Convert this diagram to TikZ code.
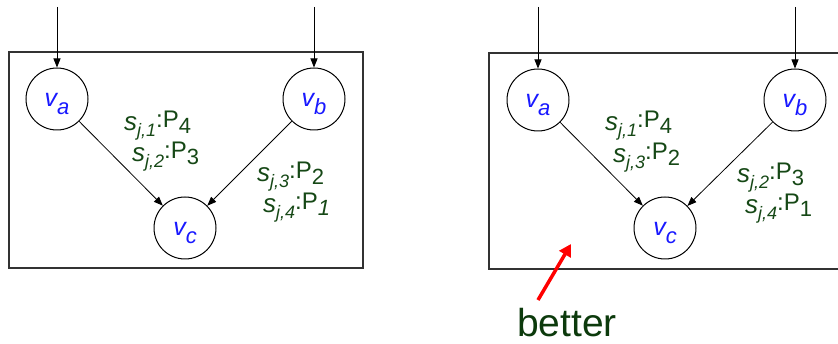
\documentclass[tikz,border=0pt]{standalone}
\usepackage{fontspec}
\setmainfont{Liberation Sans}
\usetikzlibrary{arrows.meta}
\definecolor{lblgreen}{RGB}{22,72,22}
\definecolor{bettergreen}{RGB}{12,58,12}
\definecolor{vblue}{RGB}{25,25,255}
\definecolor{boxgray}{RGB}{50,50,50}
\newcommand{\fsz}[2]{{\fontsize{#1}{#1}\selectfont #2}}
% s_{j,#1}:P_{#2}
\newcommand{\slbl}[2]{\fsz{26}{\itshape s}\raisebox{-6pt}{\fsz{18}{\itshape j,#1}}\raisebox{3pt}{\fsz{24}{:P}}\raisebox{-2.7pt}{\fsz{22}{#2}}}
\newcommand{\vlbl}[1]{\fsz{25}{\itshape v}\raisebox{-8pt}{\fsz{22}{\itshape #1}}}
\begin{document}
\begin{tikzpicture}[x=1pt,y=-1pt,
  circ/.style={draw=black,line width=1pt,circle,minimum size=62pt,inner sep=0pt},
  vlab/.style={text=vblue,inner sep=0pt,anchor=base,yshift=-7.5pt},
  slab/.style={text=lblgreen,inner sep=0pt,anchor=base west},
  panel/.style={draw=boxgray,line width=1.2pt},
  arr/.style={draw=black,line width=0.8pt,-{Triangle[length=9pt,width=7pt]}},
  redarr/.style={draw=red,line width=3.5pt,-{Triangle[length=12pt,width=13pt]}}]
\useasboundingbox (0,0) rectangle (838,344);
\clip (0,0) rectangle (838,344);
% ---------- left panel ----------
\draw[panel] (9,52) rectangle (363,268);
\node[circ] (va) at (57,99) {};
\node[circ] (vb) at (314,99) {};
\node[circ] (vc) at (185,228) {};
\node[vlab] (vat) at (va) {\vlbl{a}};
\node[vlab] (vbt) at (vb) {\vlbl{b}};
\node[vlab] (vct) at (vc) {\vlbl{c}};
\coordinate (ta) at (57,7);
\coordinate (tb) at (314,7);
\draw[arr] (ta) -- (va);
\draw[arr] (tb) -- (vb);
\draw[arr] (va) -- (vc);
\draw[arr] (vb) -- (vc);
\node[slab] (l1) at (124,131) {\slbl{1}{4}};
\node[slab] (l2) at (132,162) {\slbl{2}{3}};
\node[slab] (l3) at (257,182) {\slbl{3}{2}};
\node[slab] (l4) at (263,213) {\slbl{4}{\itshape 1}};
% ---------- right panel ----------
\draw[panel] (489,53) rectangle (850,269);
\node[circ] (rva) at (538,100) {};
\node[circ] (rvb) at (795,100) {};
\node[circ] (rvc) at (665,228) {};
\node[vlab] (rvat) at (rva) {\vlbl{a}};
\node[vlab] (rvbt) at (rvb) {\vlbl{b}};
\node[vlab] (rvct) at (rvc) {\vlbl{c}};
\coordinate (rta) at (538,7);
\coordinate (rtb) at (795,7);
\draw[arr] (rta) -- (rva);
\draw[arr] (rtb) -- (rvb);
\draw[arr] (rva) -- (rvc);
\draw[arr] (rvb) -- (rvc);
\node[slab] (r1) at (605,131) {\slbl{1}{4}};
\node[slab] (r2) at (613,163) {\slbl{3}{2}};
\node[slab] (r3) at (737,183) {\slbl{2}{3}};
\node[slab] (r4) at (745,214) {\slbl{4}{1}};
% ---------- better ----------
\coordinate (rs) at (538,300);
\coordinate (re) at (571,244);
\draw[redarr] (rs) -- (re);
\node[text=bettergreen,inner sep=0pt,anchor=base west] (better) at (517,337) {\fsz{39}{better}};
\end{tikzpicture}
\end{document}
